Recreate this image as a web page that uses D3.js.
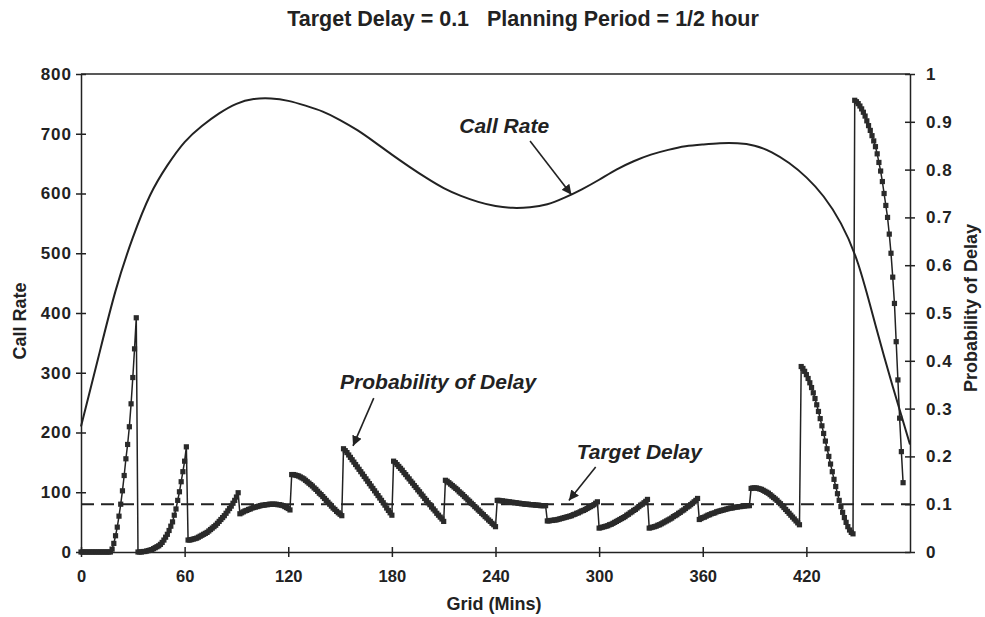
<!DOCTYPE html>
<html>
<head>
<meta charset="utf-8">
<style>
body { margin: 0; background: #fff; }
text { font-family: Arial, "Liberation Sans", Helvetica, sans-serif; fill: #222; }
.tick text { font-size: 16px; font-weight: bold; }
.axis path, .axis line { stroke: #222; stroke-width: 1.5; }
.note { font-size: 21px; font-weight: bold; font-style: italic; }
</style>
<script src="https://cdn.jsdelivr.net/npm/d3@7"></script>
</head>
<body>
<script>
// Call rate, read every 10 minutes
var rateMinutes = d3.range(0, 481, 10);
var callRate = [210, 325, 437, 526, 597, 647, 686, 713, 734, 750, 758, 759, 755, 747, 737, 723,
  706, 686, 665, 645, 626, 609, 596, 586, 579, 576, 577, 582, 593, 607, 623, 640, 654, 665,
  673, 679, 682, 684, 684, 680, 669, 651, 627, 595, 550, 482, 380, 277, 180];

// Probability of delay, one value per minute, one array per planning period
var periodStart = [0, 33, 62, 92, 122, 152, 181, 211, 241, 270, 300, 329, 358, 388, 417, 448];
var probDelay = [
  [0,0,0,0,0,0,0,0,0,0,0,0,0,0,0,0,0,0, .006,.018,.034,.052,.075,.1,.128,.16,.195,.225,.262,.31,.365,.425,.49],
  [0,0,0,.001,.001,.002,.003,.004,.005,.007,.009,.011,.013,.016,.02,.025,.031,.037,.045,.054,.063,.077,.09,.108,.126,.147,.168,.19,.22],
  [.025,.025,.026,.027,.028,.029,.031,.033,.035,.037,.039,.041,.044,.047,.05,.053,.056,.06,.064,.068,.072,.076,.081,.086,.091,.096,.102,.108,.115,.124],
  [.08,.082,.084,.086,.087,.089,.09,.092,.093,.094,.095,.096,.097,.098,.098,.099,.099,.1,.1,.1,.1,.1,.099,.099,.098,.097,.095,.093,.091,.088],
  [.162,.162,.161,.16,.159,.157,.155,.153,.15,.147,.144,.141,.138,.134,.131,.127,.123,.12,.116,.112,.108,.104,.1,.096,.092,.089,.085,.082,.079,.076],
  [.216,.212,.208,.203,.198,.193,.188,.183,.178,.173,.168,.163,.158,.153,.148,.143,.138,.133,.128,.123,.118,.113,.108,.103,.098,.092,.087,.082,.077],
  [.19,.187,.183,.179,.175,.171,.166,.162,.157,.153,.148,.144,.139,.135,.13,.126,.121,.117,.112,.108,.103,.099,.094,.09,.086,.081,.077,.073,.069,.064],
  [.15,.148,.145,.142,.139,.136,.133,.13,.126,.123,.12,.116,.113,.109,.106,.102,.099,.095,.092,.088,.085,.081,.078,.074,.071,.067,.064,.06,.057,.053],
  [.108,.108,.107,.107,.106,.106,.105,.105,.104,.104,.103,.103,.102,.102,.101,.101,.1,.1,.1,.099,.099,.099,.098,.098,.098,.097,.097,.097,.097],
  [.065,.065,.066,.066,.067,.067,.068,.069,.07,.071,.072,.073,.074,.075,.076,.078,.079,.081,.082,.084,.086,.087,.089,.091,.093,.095,.097,.099,.102,.105],
  [.05,.051,.052,.053,.054,.055,.057,.058,.06,.062,.064,.066,.068,.07,.072,.074,.077,.079,.082,.084,.087,.089,.092,.095,.098,.1,.103,.106,.11],
  [.05,.051,.052,.053,.054,.056,.057,.059,.061,.063,.065,.067,.069,.071,.074,.076,.078,.081,.083,.086,.088,.091,.094,.096,.099,.102,.105,.108,.112],
  [.068,.07,.072,.073,.075,.077,.078,.08,.081,.082,.084,.085,.086,.087,.088,.089,.09,.091,.092,.092,.093,.094,.094,.095,.095,.096,.096,.097,.097,.097],
  [.133,.134,.134,.134,.133,.132,.131,.129,.127,.125,.123,.12,.117,.114,.111,.108,.104,.101,.097,.093,.089,.085,.081,.077,.073,.069,.065,.061,.057],
  [.388,.384,.378,.371,.363,.354,.344,.333,.321,.308,.294,.279,.264,.248,.232,.216,.2,.184,.168,.152,.137,.122,.108,.095,.083,.072,.062,.053,.046,.041,.038],
  [.945,.942,.938,.933,.927,.92,.912,.902,.892,.882,.871,.86,.848,.833,.815,.797,.775,.75,.725,.7,.665,.625,.575,.52,.44,.36,.28,.21,.145]
];
var targetDelay = 0.1;

var xTicks = [0, 60, 120, 180, 240, 300, 360, 420];
var rateTicks = d3.range(0, 801, 100);
var probTicks = [0, 0.1, 0.2, 0.3, 0.4, 0.5, 0.6, 0.7, 0.8, 0.9, 1];

var width = 985, height = 617;
var plotLeft = 81, plotRight = 910, plotTop = 74, plotBottom = 552;

var svg = d3.select("body").append("svg")
  .attr("width", width)
  .attr("height", height);

var x = d3.scaleLinear().domain([0, 480]).range([plotLeft, plotRight]);
var yRate = d3.scaleLinear().domain([0, 800]).range([plotBottom, plotTop]);
var yProb = d3.scaleLinear().domain([0, 1]).range([plotBottom, plotTop]);

// flatten the periods into minute points
var probPoints = [];
probDelay.forEach(function(vals, k) {
  vals.forEach(function(v, i) { probPoints.push({ m: periodStart[k] + i, p: v }); });
});

// frame top line
svg.append("line")
  .attr("x1", plotLeft).attr("x2", plotRight)
  .attr("y1", plotTop).attr("y2", plotTop)
  .attr("stroke", "#222").attr("stroke-width", 1.5);

// axes, ticks crossing the line
var xAxis = svg.append("g").attr("class", "axis")
  .attr("transform", "translate(0," + plotBottom + ")")
  .call(d3.axisBottom(x).tickValues(xTicks).tickSize(5).tickSizeOuter(0).tickPadding(13));
xAxis.selectAll(".tick line").attr("y1", -5);
xAxis.selectAll(".tick text").style("font-size", "16.5px");

var yAxisL = svg.append("g").attr("class", "axis")
  .attr("transform", "translate(" + plotLeft + ",0)")
  .call(d3.axisLeft(yRate).tickValues(rateTicks).tickSize(5).tickSizeOuter(0).tickPadding(4));
yAxisL.selectAll(".tick line").attr("x1", 5);
yAxisL.selectAll(".tick text").style("font-size", "17px").attr("letter-spacing", "1px");

var yAxisR = svg.append("g").attr("class", "axis")
  .attr("transform", "translate(" + plotRight + ",0)")
  .call(d3.axisRight(yProb).tickValues(probTicks).tickSize(5).tickSizeOuter(0).tickPadding(11)
    .tickFormat(function(d) { return d3.format("~g")(d); }));
yAxisR.selectAll(".tick line").attr("x1", -5);
yAxisR.selectAll(".tick text").style("font-size", "17px").attr("letter-spacing", "1px");

// target delay dashed line
svg.append("line")
  .attr("x1", x(0)).attr("x2", x(480))
  .attr("y1", yProb(targetDelay)).attr("y2", yProb(targetDelay))
  .attr("stroke", "#222").attr("stroke-width", 2)
  .attr("stroke-dasharray", "13,7");

// call rate curve
svg.append("path")
  .datum(rateMinutes.map(function(m, i) { return [m, callRate[i]]; }))
  .attr("fill", "none").attr("stroke", "#222").attr("stroke-width", 2)
  .attr("d", d3.line()
    .x(function(d) { return x(d[0]); })
    .y(function(d) { return yRate(d[1]); })
    .curve(d3.curveNatural));

// probability of delay line + square markers
svg.append("path")
  .datum(probPoints)
  .attr("fill", "none").attr("stroke", "#222").attr("stroke-width", 1.5)
  .attr("d", d3.line()
    .x(function(d) { return x(d.m); })
    .y(function(d) { return yProb(d.p); }));

svg.append("g").selectAll("rect")
  .data(probPoints)
  .enter().append("rect")
  .attr("x", function(d) { return x(d.m) - 2.6; })
  .attr("y", function(d) { return yProb(d.p) - 2.6; })
  .attr("width", 5.2).attr("height", 5.2)
  .attr("fill", "#2a2a2a");

// titles
svg.append("text")
  .attr("x", 523).attr("y", 26)
  .attr("text-anchor", "middle")
  .attr("xml:space", "preserve")
  .style("font-size", "21.5px").style("font-weight", "bold")
  .text("Target Delay = 0.1   Planning Period = 1/2 hour");

svg.append("text")
  .attr("transform", "translate(26,321) rotate(-90)")
  .attr("text-anchor", "middle")
  .style("font-size", "18px").style("font-weight", "bold")
  .text("Call Rate");

svg.append("text")
  .attr("transform", "translate(977,308) rotate(-90)")
  .attr("text-anchor", "middle")
  .style("font-size", "18px").style("font-weight", "bold")
  .text("Probability of Delay");

svg.append("text")
  .attr("x", 494).attr("y", 610)
  .attr("text-anchor", "middle")
  .style("font-size", "18px").style("font-weight", "bold")
  .text("Grid (Mins)");

// annotations with arrows (text spot and arrow ends in data units)
var notes = [
  { text: "Call Rate", tx: 219, ty: 702, from: [260, 688], to: [284, 598], axis: "rate" },
  { text: "Probability of Delay", tx: 150, ty: 0.342, from: [169.5, 0.322], to: [157.5, 0.222], axis: "prob" },
  { text: "Target Delay", tx: 287, ty: 0.195, from: [298, 0.178], to: [282.5, 0.108], axis: "prob" }
];

var defs = svg.append("defs");
defs.append("marker")
  .attr("id", "arrow")
  .attr("viewBox", "0 0 10 10")
  .attr("refX", 10).attr("refY", 5)
  .attr("markerWidth", 10).attr("markerHeight", 10)
  .attr("markerUnits", "userSpaceOnUse")
  .attr("orient", "auto")
  .append("path").attr("d", "M0,0 L10,5 L0,10 Z").attr("fill", "#222");

notes.forEach(function(n) {
  var ys = n.axis === "rate" ? yRate : yProb;
  svg.append("text").attr("class", "note")
    .attr("x", x(n.tx)).attr("y", ys(n.ty))
    .text(n.text);
  svg.append("line")
    .attr("x1", x(n.from[0])).attr("y1", ys(n.from[1]))
    .attr("x2", x(n.to[0])).attr("y2", ys(n.to[1]))
    .attr("stroke", "#222").attr("stroke-width", 1.6)
    .attr("marker-end", "url(#arrow)");
});
</script>
</body>
</html>
